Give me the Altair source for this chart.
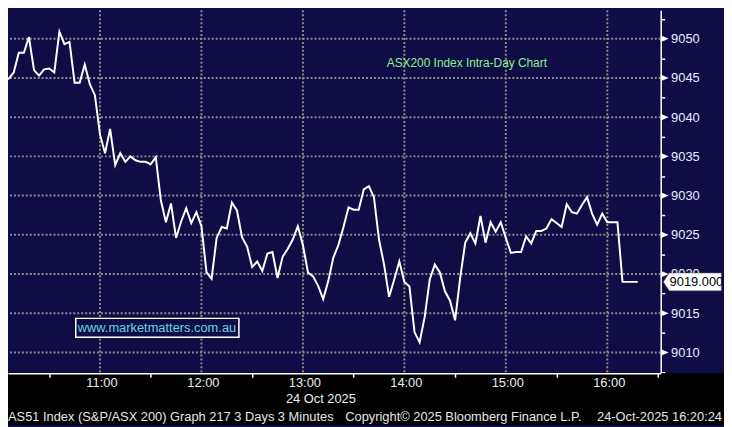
import altair as alt
import pandas as pd

# ---- data ----
start_time = "10:00"
bar_minutes = 3
prices = [
    9050.2,
    9044.7, 9044.9, 9045.7, 9048.2, 9048.2, 9050.2, 9046.0, 9045.3, 9046.1, 9046.2,
    9045.7, 9050.9, 9049.3, 9049.6, 9044.4, 9044.4, 9046.7, 9044.2, 9042.8, 9037.8,
    9035.4, 9038.5, 9033.9, 9035.4, 9034.3, 9035.0, 9034.5, 9034.3, 9034.3, 9034.0,
    9034.9, 9029.4, 9026.6,
    9029.0, 9024.6, 9026.7, 9028.4, 9026.5, 9027.9, 9026.1, 9020.2, 9019.4, 9024.6,
    9026.0, 9025.8, 9029.1, 9028.1, 9024.7, 9023.5, 9020.9, 9021.6, 9020.4, 9022.6,
    9022.8, 9019.5, 9022.2, 9023.2, 9024.4, 9026.1, 9023.7, 9020.2, 9019.7, 9018.5,
    9016.8, 9019.1,
    9022.1, 9023.7, 9026.0, 9028.5, 9028.2, 9028.2, 9030.8, 9031.2, 9029.8, 9024.4,
    9021.2, 9017.1, 9019.3, 9021.6, 9019.0, 9018.4, 9012.6, 9011.3, 9014.5, 9019.3,
    9021.2, 9020.2, 9017.8, 9016.6, 9014.1, 9019.5, 9024.0, 9025.2, 9023.9, 9027.4,
    9024.0, 9026.6,
    9025.4, 9026.6, 9024.6, 9022.7, 9022.8, 9022.8, 9024.8, 9023.9, 9025.5, 9025.5,
    9025.8, 9027.0, 9026.5, 9026.0, 9028.9, 9027.9, 9027.7, 9028.8, 9029.8, 9027.7,
    9026.3, 9027.7, 9026.6, 9026.6, 9026.6, 9019.0, 9019.0, 9019.0, 9019.0,
]
hour_labels = ["11:00", "12:00", "13:00", "14:00", "15:00", "16:00"]
half_hour_ticks = ["10:30", "11:30", "12:30", "13:30", "14:30", "15:30", "16:30"]
y_major = [9010, 9015, 9020, 9025, 9030, 9035, 9040, 9045, 9050]
y_minor = [9007.5, 9012.5, 9017.5, 9022.5, 9027.5, 9032.5, 9037.5, 9042.5, 9047.5, 9052.5]
x_domain = ["10:05:37", "16:31:35"]
y_domain = [9007.35, 9053.62]
last_price = [9019.0]
last_label = ["9019.000"]
chart_title = "ASX200 Index Intra-Day Chart"
watermark = "www.marketmatters.com.au"
date_label = "24 Oct 2025"
footer_left = "AS51 Index (S&P/ASX 200) Graph 217 3 Days 3 Minutes"
footer_mid = "Copyright\u00a9 2025 Bloomberg Finance L.P."
footer_right = "24-Oct-2025 16:20:24"


def to_min(s):
    parts = [int(p) for p in s.split(":")]
    while len(parts) < 3:
        parts.append(0)
    return parts[0] * 60 + parts[1] + parts[2] / 60.0


t0 = to_min(start_time)
line_df = pd.DataFrame({"m": [t0 + bar_minutes * i for i in range(len(prices))], "v": prices})
hours_df = pd.DataFrame({"m": [to_min(h) for h in hour_labels], "lab": hour_labels})
ymaj_df = pd.DataFrame({"v": y_major})
last_df = pd.DataFrame({"v": last_price, "lab": last_label})

NAVY = "#100c46"
GRID = "#8c8c8c"
FONT = "Liberation Sans"
W, H = 660, 367

xs = alt.Scale(domain=[to_min(d) for d in x_domain], zero=False, nice=False)
ys = alt.Scale(domain=y_domain, zero=False, nice=False)

x_axis = alt.Axis(
    values=[to_min(h) for h in half_hour_ticks], labels=False, title=None, grid=False,
    tickSize=4, tickColor="white", tickWidth=1.5, domainColor="white", domainWidth=1.5, zindex=1,
)
y_axis = alt.Axis(
    orient="right", values=sorted(y_major + y_minor), format="d",
    labelExpr="datum.value % 5 == 0 ? datum.label : ''", labelOverlap=False,
    labelFont=FONT, labelFontSize=13, labelColor="#e8eeff", labelPadding=6,
    tickSize=4, tickColor="white", tickWidth=1.5, domainColor="white", domainWidth=1.5,
    grid=False, title=None,
)


def X(field="m:Q"):
    return alt.X(field, scale=xs, axis=x_axis)


def Y(field="v:Q"):
    return alt.Y(field, scale=ys, axis=y_axis)


one = pd.DataFrame({"a": [0]})

band = alt.Chart(one).mark_rect(color="black").encode(
    x=alt.value(0), x2=alt.value(W + 64), y=alt.value(H), y2=alt.value(H + 52)
)

vgrid = alt.Chart(hours_df).mark_rule(color=GRID, strokeDash=[2, 2], strokeWidth=2).encode(x=X())
hgrid = alt.Chart(ymaj_df).mark_rule(color=GRID, strokeDash=[2, 2], strokeWidth=2).encode(y=Y())

line = alt.Chart(line_df).mark_line(color="white", strokeWidth=2, clip=True).encode(x=X(), y=Y())

hour_text = alt.Chart(hours_df).mark_text(
    font=FONT, fontSize=13, color="#eeeeee", baseline="middle", dx=2
).encode(x=X(), y=alt.value(H + 10), text="lab:N")


def fixed_text(txt, x, y, color, size=13, align="left"):
    return alt.Chart(one).mark_text(
        text=txt, font=FONT, fontSize=size, color=color, align=align, baseline="middle"
    ).encode(x=alt.value(x), y=alt.value(y))


date_t = fixed_text(date_label, 281, H + 26, "#eeeeee")
f1 = fixed_text(footer_left, 0, H + 44, "#e6e6e6")
f2 = fixed_text(footer_mid, 341, H + 44, "#e6e6e6")
f3 = fixed_text(footer_right, 722, H + 44, "#e6e6e6", align="right")
title_t = fixed_text(chart_title, 383, 53, "#8df08d", size=12)

wm_box = alt.Chart(one).mark_rect(fill=NAVY, stroke="white", strokeWidth=1.5).encode(
    x=alt.value(68.5), x2=alt.value(233.5), y=alt.value(311.5), y2=alt.value(330.5)
)
wm_text = fixed_text(watermark, 70.5, 321.5, "#66d4e8")

tri = alt.Chart(ymaj_df).mark_point(
    shape="M-1,-0.85L1,0L-1,0.85Z", filled=True, fill="white", stroke=None, opacity=1, size=64
).encode(x=alt.value(W + 4), y=Y())

tag = alt.Chart(last_df).mark_point(
    shape="M-1,0L-0.795,-0.307L1,-0.307L1,0.307L-0.795,0.307Z",
    filled=True, fill="white", stroke="#666666", strokeWidth=0.5, opacity=1, size=3434,
).encode(x=alt.value(W + 32), y=Y())
tag_text = alt.Chart(last_df).mark_text(
    font=FONT, fontSize=13, color="black", align="left", baseline="middle"
).encode(x=alt.value(W + 9), y=Y(), text="lab:N")

chart = alt.layer(
    band, vgrid, hgrid, line, hour_text, date_t, f1, f2, f3, title_t,
    wm_box, wm_text, tri, tag, tag_text,
).properties(
    width=W, height=H,
    autosize=alt.AutoSizeParams(type="none"),
    padding={"left": 0, "top": 0, "right": 64, "bottom": 52},
).configure(background=NAVY).configure_view(stroke=None)

chart.save("out.html", embed_options={"renderer": "svg", "actions": False})
